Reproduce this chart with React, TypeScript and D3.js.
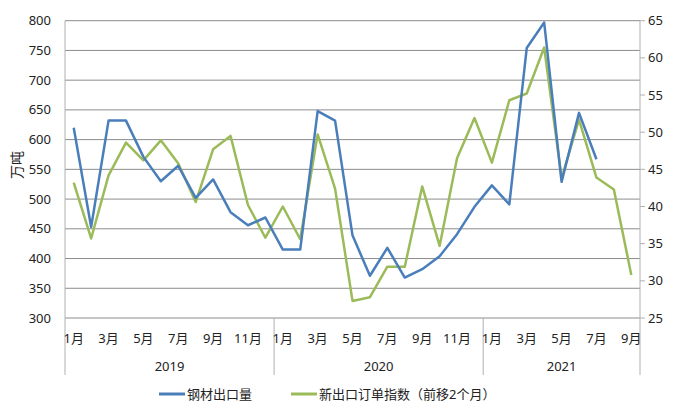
import { scaleBand, scaleLinear, line } from "d3";

const years = ["2019", "2020", "2021"];
const monthsPerYear = [12, 12, 9];
const categories = years.flatMap((y, yi) =>
  Array.from({ length: monthsPerYear[yi] }, (_, m) => `${y}-${m + 1}`)
);

// 钢材出口量 (万吨), 2019-01 .. 2021-07
const steelExport = [
  620, 453, 632, 632, 571, 530, 556, 502, 533, 478, 456, 469,
  415, 415, 648, 632, 439, 371, 418, 368, 382, 404, 441, 487,
  523, 491, 754, 797, 529, 645, 567,
];

// 新出口订单指数（前移2个月）, 2019-01 .. 2021-09
const newOrderIndex = [
  43.2, 35.7, 44.2, 48.6, 46.2, 48.9, 45.8, 40.6, 47.7, 49.5, 40.2, 35.8,
  40.0, 35.6, 49.7, 42.4, 27.3, 27.8, 31.9, 31.9, 42.7, 34.7, 46.5, 51.9,
  45.9, 54.3, 55.2, 61.4, 43.8, 51.7, 43.9, 42.3, 30.8,
];

const leftTicks = [300, 350, 400, 450, 500, 550, 600, 650, 700, 750, 800];
const rightTicks = [25, 30, 35, 40, 45, 50, 55, 60, 65];

const W = 681;
const H = 409;
const plot = { left: 65, right: 640, top: 20.7, bottom: 318 };
const FONT = "'Noto Sans', 'Noto Sans CJK SC', sans-serif";
const BLUE = "#4a7ebb";
const GREEN = "#9bbb59";

export default function App() {
  const x = scaleBand<number>()
    .domain(categories.map((_, i) => i))
    .range([plot.left, plot.right]);
  const cx = (i: number) => (x(i) ?? 0) + x.bandwidth() / 2;
  const yL = scaleLinear().domain([300, 800]).range([plot.bottom, plot.top]);
  const yR = scaleLinear().domain([25, 65]).range([plot.bottom, plot.top]);

  const blueLine = line<number>()
    .x((_, i) => cx(i))
    .y((d) => yL(d));
  const greenLine = line<number>()
    .x((_, i) => cx(i))
    .y((d) => yR(d));

  // year boundaries on the category axis
  const bounds: number[] = [0];
  monthsPerYear.forEach((n, i) => bounds.push(bounds[i] + n));

  return (
    <svg
      width={W}
      height={H}
      style={{ position: "absolute", left: 0, top: 0, background: "#fff" }}
      fontFamily={FONT}
    >
      {leftTicks.map((t) => (
        <line
          key={"g" + t}
          x1={plot.left}
          x2={plot.right}
          y1={yL(t)}
          y2={yL(t)}
          stroke="#8c8c8c"
          strokeWidth={1}
        />
      ))}
      {leftTicks.map((t) => (
        <text
          key={"l" + t}
          x={51}
          y={yL(t)}
          dy="0.35em"
          textAnchor="end"
          fontSize={13}
          fill="#222"
        >
          {t}
        </text>
      ))}
      {rightTicks.map((t) => (
        <g key={"r" + t}>
          <line x1={plot.right} x2={plot.right + 5} y1={yR(t)} y2={yR(t)} stroke="#b0b0b0" />
          <text x={648} y={yR(t)} dy="0.35em" fontSize={13} fill="#222">
            {t}
          </text>
        </g>
      ))}
      <line x1={plot.left} x2={plot.left} y1={plot.top} y2={375} stroke="#b0b0b0" />
      <line x1={plot.right} x2={plot.right} y1={plot.top} y2={375} stroke="#b0b0b0" />
      {bounds.slice(1, -1).map((b) => (
        <line
          key={"s" + b}
          x1={x(b) ?? 0}
          x2={x(b) ?? 0}
          y1={plot.bottom}
          y2={375}
          stroke="#b0b0b0"
        />
      ))}
      {categories.map((c, i) => {
        const m = Number(c.split("-")[1]);
        if (m % 2 === 0) return null;
        return (
          <text key={c} x={cx(i)} y={343} textAnchor="middle" fontSize={13} fill="#222">
            {m}月
          </text>
        );
      })}
      {years.map((y, yi) => {
        const a = x(bounds[yi]) ?? 0;
        const b = bounds[yi + 1] < categories.length ? x(bounds[yi + 1]) ?? 0 : plot.right;
        return (
          <text key={y} x={(a + b) / 2} y={371} textAnchor="middle" fontSize={13} fill="#222">
            {y}
          </text>
        );
      })}
      <text
        transform={`translate(22, 165) rotate(-90)`}
        textAnchor="middle"
        fontSize={14}
        fill="#222"
      >
        万吨
      </text>
      <path d={greenLine(newOrderIndex) ?? ""} fill="none" stroke={GREEN} strokeWidth={2.5} strokeLinejoin="round" />
      <path d={blueLine(steelExport) ?? ""} fill="none" stroke={BLUE} strokeWidth={2.5} strokeLinejoin="round" />
      <g fontSize={13} fill="#222">
        <line x1={159} x2={185} y1={394} y2={394} stroke={BLUE} strokeWidth={3} />
        <text x={187} y={398.5}>钢材出口量</text>
        <line x1={291} x2={317} y1={394} y2={394} stroke={GREEN} strokeWidth={3} />
        <text x={319} y={398.5}>新出口订单指数（前移2个月）</text>
      </g>
    </svg>
  );
}
